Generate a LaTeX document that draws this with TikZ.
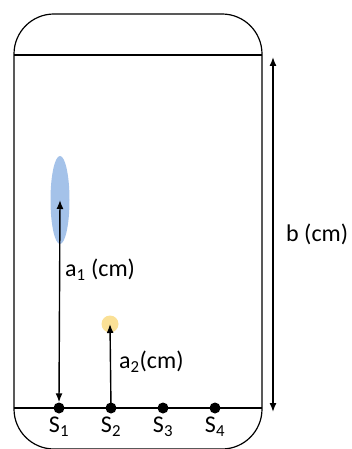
\documentclass[tikz,border=0pt]{standalone}
\usepackage{fontspec}
\setmainfont{Carlito}
\usetikzlibrary{arrows.meta,positioning,shapes.geometric}
\definecolor{blobblue}{RGB}{164,194,233}
\definecolor{spotyellow}{RGB}{250,224,150}
\begin{document}
\begin{tikzpicture}[x=1pt,y=-1pt,
sensor/.style={circle,fill=black,inner sep=0pt,minimum size=11pt},
lab/.style={font=\fontsize{24}{27}\selectfont,inner sep=1pt},
dim/.style={{Latex[length=9pt,width=7pt]}-{Latex[length=9pt,width=7pt]},line width=1.4pt},
dimup/.style={-{Latex[length=9pt,width=7pt]},line width=1.4pt},
node distance=2pt]
\useasboundingbox (0,0) rectangle (351,449);
% container
\draw[line width=1.2pt,rounded corners=40pt] (14,230) -- (14,14) -- (262,14) -- (262,449) -- (14,449) -- cycle;
\draw[line width=1.4pt] (14,55) -- (262,55);
\draw[line width=1.4pt] (14,408) -- (262,408);
% sources
\node[ellipse,fill=blobblue,minimum width=19pt,minimum height=88pt,inner sep=0pt] (blob) at (60,200) {};
\node[circle,fill=spotyellow,minimum size=17pt,inner sep=0pt] (spot) at (110,324) {};
% sensors
\foreach \i/\x in {1/59,2/111,3/163,4/215}{
  \node[sensor] (s\i) at (\x,408) {};
  \node[lab,below=2pt of s\i] (l\i) {S\textsubscript{\i}};
}
% distances
\draw[dim] (blob.center) -- (s1.north);
\draw[dimup] (s2.center) -- (spot.center);
\node[lab,anchor=west] (a1) at (64,270) {a\textsubscript{1} (cm)};
\node[lab,anchor=west] (a2) at (118,362) {a\textsubscript{2}(cm)};
\coordinate (btop) at (273,57);
\coordinate (bbot) at (273,412);
\draw[dim] (btop) -- (bbot);
\node[lab,anchor=west] (b) at (285,234) {b (cm)};
\end{tikzpicture}
\end{document}
